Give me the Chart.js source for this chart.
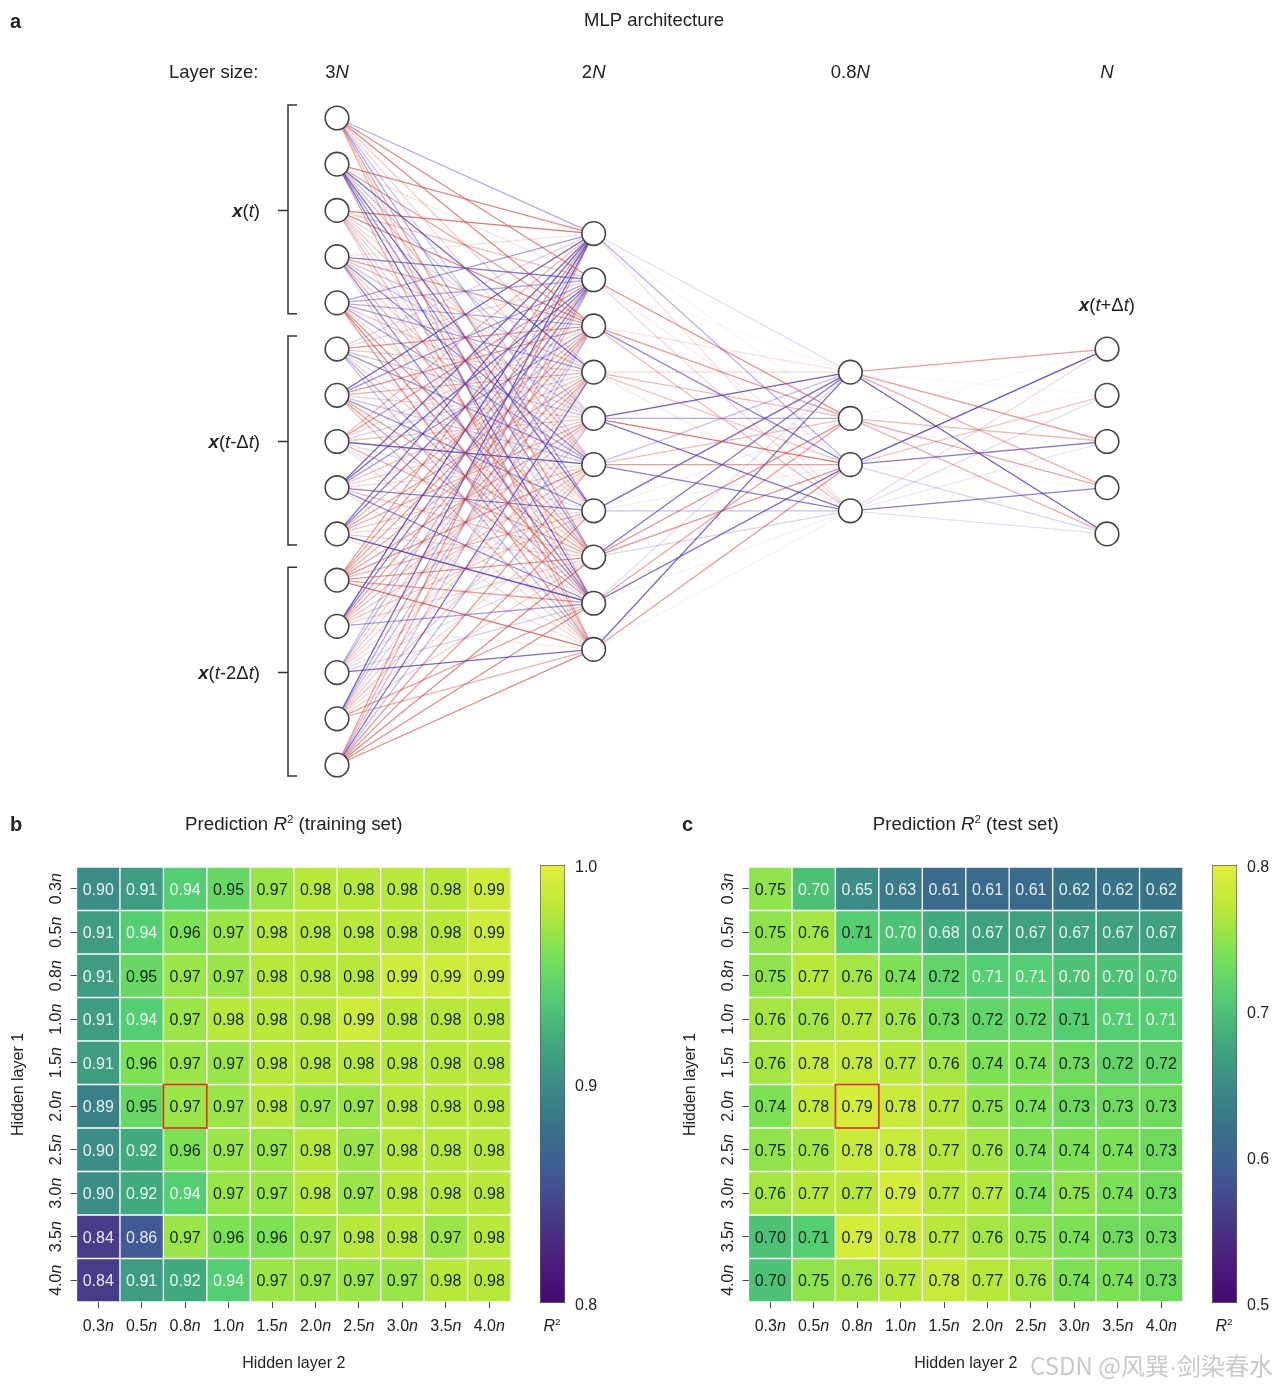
<!DOCTYPE html>
<html>
<head>
<meta charset="utf-8">
<title>MLP architecture</title>
<script src="https://cdn.jsdelivr.net/npm/chart.js@4"></script>
<style>
  html, body { margin: 0; background: #fff; }
  #page { position: relative; width: 1279px; height: 1388px; overflow: hidden; }
  canvas { position: absolute; }
  #mark { position: absolute; left: 1030px; top: 1347px; font: 24px "Noto Sans CJK SC", "Liberation Sans", sans-serif;
          color: #c9c9c9; white-space: nowrap; }
  #mark span { font-family: "Liberation Sans", sans-serif; }
</style>
</head>
<body>
<div id="page">
  <canvas id="net" width="1279" height="800" style="left:0;top:0"></canvas>
  <canvas id="heat-train" width="607" height="588" style="left:0;top:800px"></canvas>
  <canvas id="heat-test" width="607" height="588" style="left:672px;top:800px"></canvas>
  <canvas id="bar-train" width="70" height="490" style="left:530px;top:840px"></canvas>
  <canvas id="bar-test" width="70" height="490" style="left:1202px;top:840px"></canvas>
  <div id="mark">CSDN @风巽<span>·</span>剑染春水</div>
</div>
<script>
const FONT = '"Liberation Sans", Arial, sans-serif';
const INK = '#222';

// network: nodes per layer and signed connection weights (red > 0, blue < 0)
const layerSizes = [15, 10, 4, 5];
const layerNames = ['3', '2', '0.8', ''];

const inputToHidden1 = [
  [-.40, .60, .60, .25, .20, -.25, -.45, .50, .30, .40],
  [.60, .15, .50, -.70, -.30, .35, -.70, -.50, -.70, .45],
  [.70, .30, .60, -.20, .20, .30, .25, -.20, .35, .20],
  [.15, -.60, .50, .35, -.25, -.55, .30, .40, -.55, .25],
  [-.45, -.40, -.40, -.45, .30, -.40, .20, .60, .65, .55],
  [-.20, .20, .55, .30, -.30, -.50, -.15, .25, -.35, -.30],
  [-.75, -.50, .55, .40, .25, -.30, -.50, .50, .50, .35],
  [.35, .55, .25, -.20, .30, -.75, -.15, .45, -.15, .20],
  [-.70, -.70, -.50, .30, .25, .20, -.60, .35, -.55, .20],
  [-.70, -.60, .40, .50, .40, .30, .20, .25, -.80, .15],
  [.50, .50, .50, .40, .45, .55, .40, .55, .50, .70],
  [-.80, -.60, .50, .45, .35, .30, .30, .25, -.45, .12],
  [-.30, -.35, .25, .30, .20, .20, -.15, -.15, -.20, -.70],
  [-.75, -.40, -.30, .25, .25, .30, .20, .25, .50, .40],
  [.50, .40, -.30, -.70, -.30, .50, .50, .60, .60, .60]
];
const hidden1ToHidden2 = [
  [-.15, -.05, -.35, .15],
  [.05, .55, .10, .20],
  [.15, .50, -.60, .35],
  [.20, .35, .30, .10],
  [-.75, -.40, .70, -.65],
  [-.30, .35, .50, -.60],
  [-.70, -.08, -.08, -.30],
  [-.65, .55, .55, -.20],
  [-.15, .45, -.70, -.06],
  [-.70, .04, .50, -.06]
];
const hidden2ToOutput = [
  [.50, .04, .50, .40, -.75],
  [.06, .03, .35, .45, .40],
  [-.80, .30, -.60, .04, -.20],
  [.20, -.15, -.10, -.60, -.15]
];

// heat maps
const sizeLabels = ['0.3', '0.5', '0.8', '1.0', '1.5', '2.0', '2.5', '3.0', '3.5', '4.0'];
const trainR2 = [
  [.90, .91, .94, .95, .97, .98, .98, .98, .98, .99],
  [.91, .94, .96, .97, .98, .98, .98, .98, .98, .99],
  [.91, .95, .97, .97, .98, .98, .98, .99, .99, .99],
  [.91, .94, .97, .98, .98, .98, .99, .98, .98, .98],
  [.91, .96, .97, .97, .98, .98, .98, .98, .98, .98],
  [.89, .95, .97, .97, .98, .97, .97, .98, .98, .98],
  [.90, .92, .96, .97, .97, .98, .97, .98, .98, .98],
  [.90, .92, .94, .97, .97, .98, .97, .98, .98, .98],
  [.84, .86, .97, .96, .96, .97, .98, .98, .97, .98],
  [.84, .91, .92, .94, .97, .97, .97, .97, .98, .98]
];
const testR2 = [
  [.75, .70, .65, .63, .61, .61, .61, .62, .62, .62],
  [.75, .76, .71, .70, .68, .67, .67, .67, .67, .67],
  [.75, .77, .76, .74, .72, .71, .71, .70, .70, .70],
  [.76, .76, .77, .76, .73, .72, .72, .71, .71, .71],
  [.76, .78, .78, .77, .76, .74, .74, .73, .72, .72],
  [.74, .78, .79, .78, .77, .75, .74, .73, .73, .73],
  [.75, .76, .78, .78, .77, .76, .74, .74, .74, .73],
  [.76, .77, .77, .79, .77, .77, .74, .75, .74, .73],
  [.70, .71, .79, .78, .77, .76, .75, .74, .73, .73],
  [.70, .75, .76, .77, .78, .77, .76, .74, .74, .73]
];
// cells at the white-text level that still carry dark text
const testDarkCells = ['1,2', '3,7', '8,0', '8,1', '9,0'];
const bestCell = [5, 2];

const colorStops = ['#460a6e', '#4b1e7d', '#463c87', '#415a96', '#377387', '#3c8c87',
                    '#41aa7d', '#55cd73', '#7de155', '#b9e83c', '#e4ee3a'];

function hexRgb(hex) {
  return [1, 3, 5].map(i => parseInt(hex.slice(i, i + 2), 16));
}

function colorAt(t) {
  t = Math.max(0, Math.min(1, t)) * (colorStops.length - 1);
  const i = Math.min(Math.floor(t), colorStops.length - 2);
  const a = hexRgb(colorStops[i]);
  const b = hexRgb(colorStops[i + 1]);
  const c = a.map((v, k) => Math.round(v + (b[k] - v) * (t - i)));
  return 'rgb(' + c.join(',') + ')';
}

// mixed-style text: runs are {t, i (italic), b (bold), sup}
function drawRuns(ctx, runs, x, y, size, align, rotate) {
  const fontOf = r => (r.i ? 'italic ' : '') + (r.b ? 'bold ' : '') + (r.sup ? size * 0.62 : size) + 'px ' + FONT;
  let total = 0;
  runs.forEach(r => { ctx.font = fontOf(r); total += ctx.measureText(r.t).width; });
  ctx.save();
  ctx.translate(x, y);
  if (rotate) ctx.rotate(-Math.PI / 2);
  ctx.fillStyle = INK;
  ctx.textAlign = 'left';
  ctx.textBaseline = 'alphabetic';
  let cx = align === 'right' ? -total : align === 'left' ? 0 : -total / 2;
  const base = size * 0.36;
  runs.forEach(r => {
    ctx.font = fontOf(r);
    ctx.fillText(r.t, cx, r.sup ? base - size * 0.38 : base);
    cx += ctx.measureText(r.t).width;
  });
  ctx.restore();
}

function nodeY(layer, i) {
  return i - (layerSizes[layer] - 1) / 2;
}

function weightColor(w) {
  const a = Math.min(1, Math.abs(w) * 1.05);
  return w > 0 ? 'rgba(205,70,62,' + a + ')' : 'rgba(70,50,185,' + a + ')';
}

function edgeDatasets(layer, weights) {
  const out = [];
  weights.forEach((row, i) => {
    row.forEach((w, j) => {
      out.push({
        data: [{ x: layer, y: nodeY(layer, i) }, { x: layer + 1, y: nodeY(layer + 1, j) }],
        borderColor: weightColor(w),
        borderWidth: 1.3,
        showLine: true,
        pointRadius: 0,
        clip: false,
        order: 2
      });
    });
  });
  return out;
}

const nodeDatasets = layerSizes.map((n, layer) => ({
  data: Array.from({ length: n }, (_, i) => ({ x: layer, y: nodeY(layer, i) })),
  showLine: false,
  pointRadius: 11.8,
  pointBackgroundColor: '#fff',
  pointBorderColor: '#444',
  pointBorderWidth: 1.6,
  clip: false,
  order: 1
}));

const netLabels = {
  id: 'netLabels',
  afterDraw(chart) {
    const ctx = chart.ctx;
    const xs = chart.scales.x;
    const ys = chart.scales.y;

    drawRuns(ctx, [{ t: 'a', b: true }], 10, 21, 20, 'left');
    drawRuns(ctx, [{ t: 'MLP architecture' }], 654, 19.5, 18.5);
    drawRuns(ctx, [{ t: 'Layer size:' }], 169, 71.5, 18.5, 'left');
    layerNames.forEach((name, i) => {
      drawRuns(ctx, [{ t: name }, { t: 'N', i: true }], xs.getPixelForValue(i), 71.5, 18.5);
    });

    // brackets round the three input time steps
    const groups = [
      { from: 0, to: 4, runs: [{ t: 'x', b: true, i: true }, { t: '(' }, { t: 't', i: true }, { t: ')' }] },
      { from: 5, to: 9, runs: [{ t: 'x', b: true, i: true }, { t: '(' }, { t: 't', i: true }, { t: '-Δ' }, { t: 't', i: true }, { t: ')' }] },
      { from: 10, to: 14, runs: [{ t: 'x', b: true, i: true }, { t: '(' }, { t: 't', i: true }, { t: '-2Δ' }, { t: 't', i: true }, { t: ')' }] }
    ];
    groups.forEach(g => {
      const top = ys.getPixelForValue(nodeY(0, g.from)) - 13;
      const bottom = ys.getPixelForValue(nodeY(0, g.to)) + 11;
      const mid = ys.getPixelForValue(nodeY(0, (g.from + g.to) / 2));
      ctx.save();
      ctx.strokeStyle = '#333';
      ctx.lineWidth = 1.5;
      ctx.beginPath();
      ctx.moveTo(297, top);
      ctx.lineTo(288, top);
      ctx.lineTo(288, bottom);
      ctx.lineTo(297, bottom);
      ctx.moveTo(278, mid);
      ctx.lineTo(288, mid);
      ctx.stroke();
      ctx.restore();
      drawRuns(ctx, g.runs, 260, mid, 18.5, 'right');
    });

    drawRuns(ctx, [{ t: 'x', b: true, i: true }, { t: '(' }, { t: 't', i: true }, { t: '+Δ' }, { t: 't', i: true }, { t: ')' }],
      xs.getPixelForValue(3), 304.5, 18.5);
  }
};

new Chart(document.getElementById('net'), {
  type: 'scatter',
  data: {
    datasets: nodeDatasets.concat(
      edgeDatasets(0, inputToHidden1),
      edgeDatasets(1, hidden1ToHidden2),
      edgeDatasets(2, hidden2ToOutput))
  },
  options: {
    responsive: false,
    animation: false,
    layout: { padding: { left: 337, right: 172, top: 118, bottom: 35 } },
    scales: {
      x: { display: false, min: 0, max: 3 },
      y: { display: false, min: -7, max: 7, reverse: true }
    },
    plugins: { legend: { display: false }, tooltip: { enabled: false } }
  },
  plugins: [netLabels]
});

function makeHeatmap(id, letter, setName, rows, lo, hi, isDark) {
  const labels = {
    id: 'heatLabels',
    afterDatasetsDraw(chart) {
      const ctx = chart.ctx;
      const xs = chart.scales.x;
      const ys = chart.scales.y;
      const area = chart.chartArea;

      // cell values
      ctx.save();
      ctx.font = '16px ' + FONT;
      ctx.textAlign = 'center';
      ctx.textBaseline = 'middle';
      rows.forEach((row, r) => {
        const bars = chart.getDatasetMeta(r).data;
        row.forEach((v, c) => {
          const p = bars[c].getCenterPoint();
          ctx.fillStyle = isDark(v, r, c) ? '#12261c' : 'rgba(255,255,255,.88)';
          ctx.fillText(v.toFixed(2), p.x, p.y + 1.5);
        });
      });
      ctx.restore();

      // box round the chosen architecture
      const best = chart.getDatasetMeta(bestCell[0]).data[bestCell[1]].getProps(['x', 'y', 'base', 'width']);
      ctx.save();
      ctx.strokeStyle = '#d2401a';
      ctx.lineWidth = 1.8;
      ctx.strokeRect(best.x - best.width / 2, Math.min(best.y, best.base), best.width, Math.abs(best.base - best.y));
      ctx.restore();

      sizeLabels.forEach((name, i) => {
        drawRuns(ctx, [{ t: name }, { t: 'n', i: true }], xs.getPixelForTick(i), 525, 16);
        drawRuns(ctx, [{ t: name }, { t: 'n', i: true }], 55, ys.getPixelForValue(i + 0.5), 16, 'center', true);
      });

      const midX = (area.left + area.right) / 2;
      const midY = (area.top + area.bottom) / 2;
      drawRuns(ctx, [{ t: letter, b: true }], 10, 24, 20, 'left');
      drawRuns(ctx, [{ t: 'Prediction ' }, { t: 'R', i: true }, { t: '2', sup: true }, { t: ' (' + setName + ' set)' }], midX, 23.5, 18.7);
      drawRuns(ctx, [{ t: 'Hidden layer 2' }], midX, 562, 16);
      drawRuns(ctx, [{ t: 'Hidden layer 1' }], 17, midY, 16, 'center', true);
      drawRuns(ctx, [{ t: 'R', i: true }, { t: '2', sup: true }], 552, 525, 16);
    }
  };

  new Chart(document.getElementById(id), {
    type: 'bar',
    data: {
      labels: sizeLabels,
      datasets: rows.map((row, r) => ({
        data: row.map(() => [r, r + 1]),
        backgroundColor: row.map(v => colorAt((v - lo) / (hi - lo))),
        borderColor: 'rgba(255,255,255,.45)',
        borderWidth: 1,
        borderSkipped: false,
        grouped: false,
        barPercentage: 1,
        categoryPercentage: 1
      }))
    },
    options: {
      responsive: false,
      animation: false,
      layout: { padding: { left: 70.5, right: 96, top: 67, bottom: 80 } },
      scales: {
        x: {
          grid: { offset: false, drawOnChartArea: false, tickLength: 6, color: '#444' },
          border: { display: false },
          ticks: { display: false }
        },
        y: {
          min: 0,
          max: 10,
          reverse: true,
          afterBuildTicks(scale) {
            scale.ticks = rows.map((_, i) => ({ value: i + 0.5 }));
          },
          grid: { drawOnChartArea: false, tickLength: 6, color: '#444' },
          border: { display: false },
          ticks: { display: false }
        }
      },
      plugins: { legend: { display: false }, tooltip: { enabled: false } }
    },
    plugins: [labels]
  });
}

function makeColorbar(id, lo, hi) {
  // tick labels sit a little under the scale position, so they are drawn here
  const tickText = {
    id: 'tickText',
    afterDraw(chart) {
      const ys = chart.scales.y;
      ys.ticks.forEach((tick, i) => {
        drawRuns(chart.ctx, [{ t: tick.value.toFixed(1) }], chart.chartArea.right + 10, ys.getPixelForTick(i) + 1.5, 16, 'left');
      });
    }
  };

  new Chart(document.getElementById(id), {
    type: 'bar',
    data: {
      labels: ['R2'],
      datasets: [{
        data: [[lo, hi]],
        backgroundColor(c) {
          const area = c.chart.chartArea;
          if (!area) return colorStops[5];
          const g = c.chart.ctx.createLinearGradient(0, area.bottom, 0, area.top);
          colorStops.forEach((col, i) => g.addColorStop(i / (colorStops.length - 1), col));
          return g;
        },
        borderColor: '#5c5f5a',
        borderWidth: 1,
        borderSkipped: false,
        barPercentage: 1,
        categoryPercentage: 1
      }]
    },
    options: {
      responsive: false,
      animation: false,
      layout: { padding: { left: 10, right: 0, top: 25, bottom: 27 } },
      scales: {
        x: { display: false },
        y: {
          position: 'right',
          min: lo,
          max: hi,
          afterFit(scale) { scale.width = 35; },
          grid: { display: false, drawTicks: false },
          border: { display: false },
          ticks: { stepSize: 0.1, display: false }
        }
      },
      plugins: { legend: { display: false }, tooltip: { enabled: false } }
    },
    plugins: [tickText]
  });
}

makeHeatmap('heat-train', 'b', 'training', trainR2, 0.8, 1.0, v => v >= 0.95);
makeHeatmap('heat-test', 'c', 'test', testR2, 0.5, 0.8,
  (v, r, c) => v >= 0.72 || testDarkCells.includes(r + ',' + c));
makeColorbar('bar-train', 0.8, 1.0);
makeColorbar('bar-test', 0.5, 0.8);
</script>
</body>
</html>
